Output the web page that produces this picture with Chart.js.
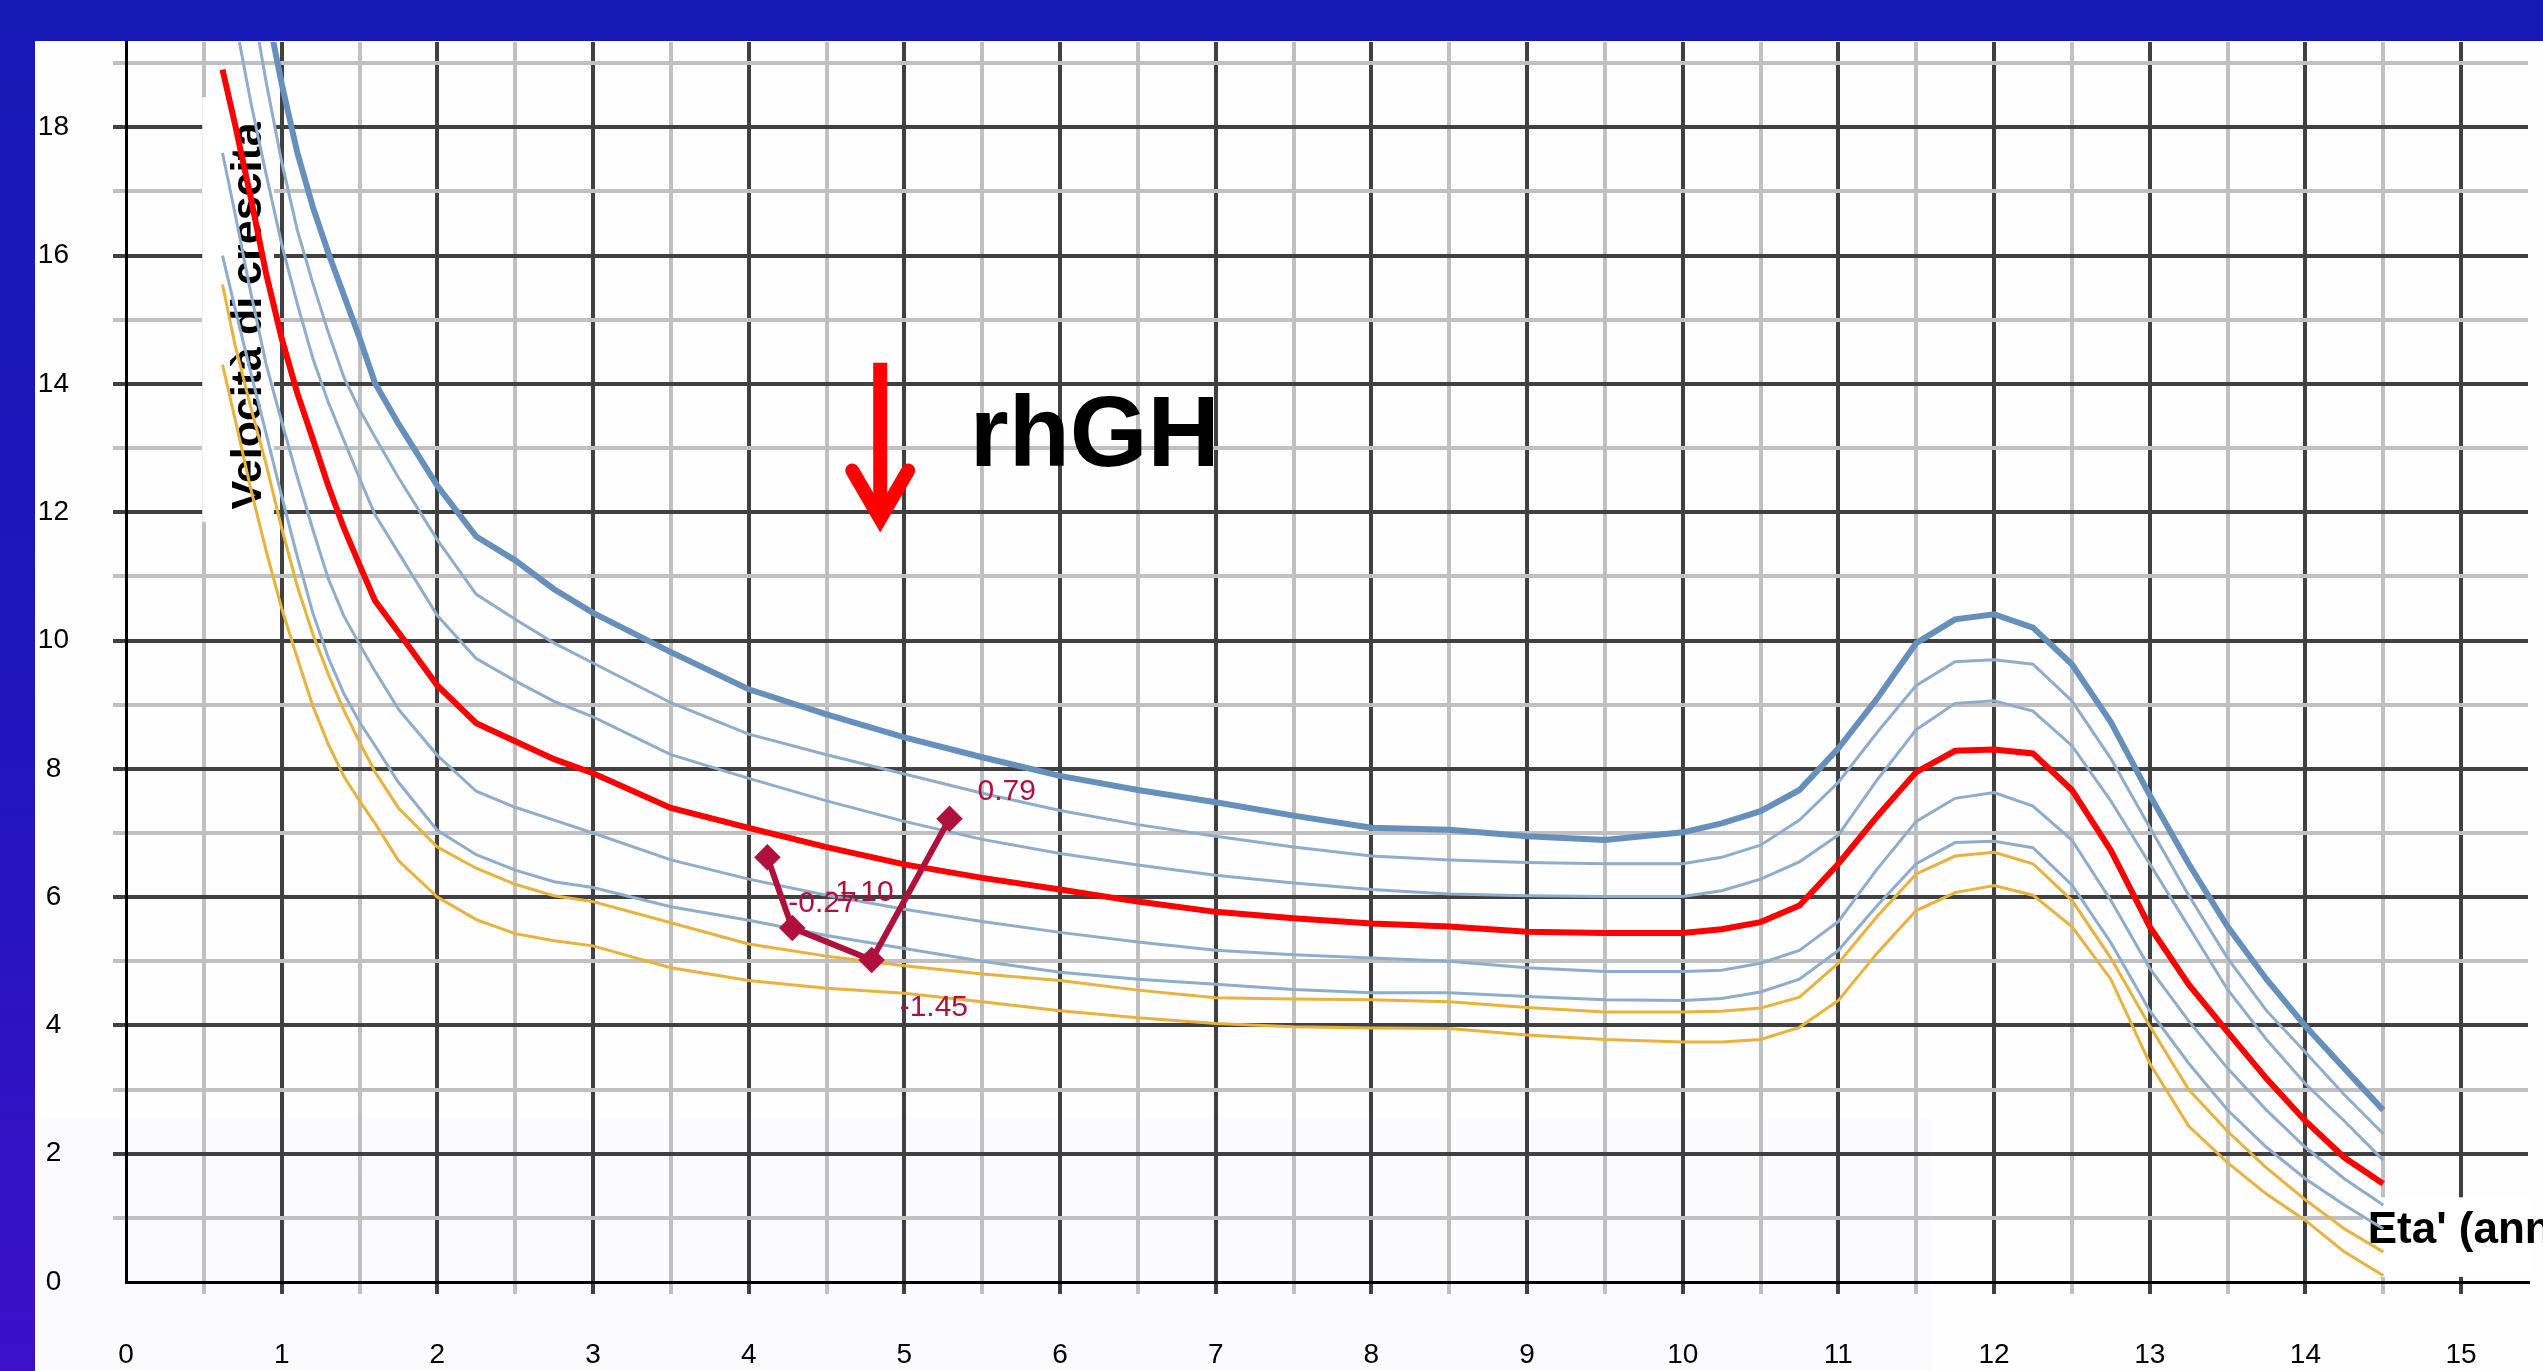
<!DOCTYPE html>
<html>
<head>
<meta charset="utf-8">
<title>Velocità di crescita</title>
<script src="https://cdn.jsdelivr.net/npm/chart.js@4.4.1/dist/chart.umd.min.js"></script>
<style>
  html, body { margin: 0; padding: 0; overflow: hidden; }
  body { width: 2543px; height: 1371px; position: relative;
         background: linear-gradient(180deg, #1519b6 0%, #2116bd 55%, #3b10c8 100%); }
  #sheet { position: absolute; left: 35px; top: 41px; width: 2508px; height: 1330px; background: #fefeff; }
  #tint { position: absolute; left: 35px; top: 1119px; width: 1895px; height: 252px; background: #fbfaff; }
  #growthChart { position: absolute; left: 35px; top: 27px; display: block; }
</style>
</head>
<body>
<div id="sheet"></div>
<div id="tint"></div>
<canvas id="growthChart" width="2508" height="1344"></canvas>
<script>
// age in years (x axis)
const ages = [0.62, 0.7, 0.8, 0.9, 1.0, 1.1, 1.2, 1.3, 1.4, 1.5, 1.6, 1.75, 2.0, 2.25, 2.5, 2.75,
  3.0, 3.5, 4.0, 4.5, 5.0, 5.5, 6.0, 6.5, 7.0, 7.5, 8.0, 8.5, 9.0, 9.5, 10.0, 10.25, 10.5, 10.75,
  11.0, 11.25, 11.5, 11.75, 12.0, 12.25, 12.5, 12.75, 13.0, 13.25, 13.5, 13.75, 14.0, 14.25, 14.5];

// reference growth velocity curves (cm/year), top to bottom
const curveTop = [null, null, null, 19.9, 18.68, 17.61, 16.76, 16.04, 15.38, 14.72, 14.01, 13.38, 12.41, 11.62, 11.25, 10.8,
  10.43, 9.82, 9.24, 8.85, 8.49, 8.18, 7.89, 7.67, 7.48, 7.27, 7.08, 7.05, 6.95, 6.89, 7.01, 7.15, 7.34, 7.67,
  8.32, 9.10, 9.96, 10.33, 10.41, 10.20, 9.63, 8.73, 7.59, 6.52, 5.54, 4.72, 3.99, 3.33, 2.68];
const curveHigh1 = [null, null, 20.1, 18.71, 17.46, 16.4, 15.57, 14.8, 14.1, 13.6, 13.17, 12.54, 11.57, 10.72, 10.33, 9.96,
  9.65, 9.03, 8.54, 8.22, 7.92, 7.62, 7.35, 7.13, 6.95, 6.78, 6.64, 6.58, 6.54, 6.52, 6.52, 6.62, 6.81, 7.2,
  7.79, 8.57, 9.30, 9.67, 9.70, 9.63, 9.06, 8.16, 7.09, 6.03, 5.05, 4.23, 3.58, 2.92, 2.31];
const curveHigh2 = [null, 19.7, 18.41, 17.27, 16.18, 15.25, 14.4, 13.71, 13.12, 12.53, 11.96, 11.37, 10.39, 9.72, 9.37, 9.05,
  8.81, 8.22, 7.85, 7.5, 7.18, 6.9, 6.68, 6.5, 6.34, 6.22, 6.12, 6.05, 6.02, 6.01, 6.01, 6.1, 6.28, 6.55,
  6.97, 7.83, 8.61, 9.02, 9.06, 8.90, 8.36, 7.50, 6.52, 5.54, 4.56, 3.78, 3.09, 2.51, 1.90];
const curveMedian = [18.9, 18.05, 16.92, 15.72, 14.71, 13.86, 13.14, 12.41, 11.75, 11.18, 10.62, 10.13, 9.3, 8.71, 8.43, 8.15,
  7.93, 7.39, 7.08, 6.78, 6.51, 6.3, 6.12, 5.93, 5.77, 5.67, 5.59, 5.54, 5.46, 5.44, 5.44, 5.50, 5.61, 5.87,
  6.52, 7.26, 7.95, 8.28, 8.30, 8.24, 7.67, 6.73, 5.54, 4.64, 3.90, 3.17, 2.51, 1.94, 1.53];
const curveLow1 = [17.6, 16.66, 15.44, 14.31, 13.41, 12.55, 11.73, 10.96, 10.38, 9.94, 9.52, 8.93, 8.21, 7.65, 7.40, 7.2,
  7.0, 6.58, 6.28, 6.03, 5.81, 5.62, 5.45, 5.3, 5.17, 5.1, 5.05, 5.0, 4.9, 4.84, 4.84, 4.86, 4.97, 5.17,
  5.62, 6.44, 7.18, 7.54, 7.63, 7.42, 6.89, 5.95, 4.89, 4.07, 3.33, 2.68, 2.10, 1.61, 1.20];
const curveLow2 = [16.0, 15.18, 14.19, 13.23, 12.25, 11.31, 10.43, 9.73, 9.17, 8.73, 8.36, 7.79, 7.04, 6.66, 6.42, 6.24,
  6.15, 5.85, 5.64, 5.4, 5.20, 5.0, 4.83, 4.72, 4.64, 4.56, 4.51, 4.51, 4.45, 4.40, 4.39, 4.42, 4.52, 4.72,
  5.17, 5.87, 6.52, 6.85, 6.87, 6.77, 6.19, 5.29, 4.23, 3.41, 2.68, 2.10, 1.61, 1.20, 0.83];
const curveLow3 = [15.55, 14.61, 13.65, 12.75, 11.75, 10.85, 10.1, 9.47, 8.91, 8.42, 7.95, 7.39, 6.78, 6.45, 6.2, 6.02,
  5.93, 5.6, 5.27, 5.08, 4.93, 4.8, 4.70, 4.55, 4.43, 4.41, 4.40, 4.37, 4.28, 4.21, 4.21, 4.22, 4.27, 4.44,
  4.97, 5.70, 6.36, 6.64, 6.70, 6.52, 5.95, 5.05, 3.99, 3.00, 2.35, 1.78, 1.28, 0.83, 0.47];
const curveBottom = [14.3, 13.46, 12.38, 11.4, 10.5, 9.73, 8.98, 8.38, 7.88, 7.5, 7.15, 6.57, 6.0, 5.65, 5.43, 5.32,
  5.24, 4.9, 4.70, 4.58, 4.50, 4.37, 4.23, 4.12, 4.03, 3.98, 3.96, 3.95, 3.85, 3.78, 3.74, 3.74, 3.78, 3.97,
  4.39, 5.13, 5.79, 6.07, 6.18, 6.03, 5.54, 4.72, 3.41, 2.43, 1.86, 1.37, 0.96, 0.47, 0.10];

// patient measurements
const patientAges = [4.12, 4.28, 4.79, 5.29];
const patientVelocity = [6.62, 5.52, 5.02, 7.22];
const patientSds = ['-0.27', '-1.10', '-1.45', '0.79'];

const xTitle = "Eta' (anni)";
const yTitle = 'Velocità di crescita';
const markerText = 'rhGH';

const FONT = "'Liberation Sans', Arial, sans-serif";
const DARK = '#404040';
const LIGHT = '#c0c0c0';

const pts = (xs, ys) => xs.map((x, i) => ({ x: x, y: ys[i] }));
const isInt = v => Math.abs(v - Math.round(v)) < 1e-6;

function curve(values, color, width) {
  return {
    data: pts(ages, values),
    borderColor: color,
    borderWidth: width,
    pointRadius: 0,
    tension: 0,
    fill: false
  };
}

// white boxes and rotated axis titles, under the curves
const titleBoxes = {
  id: 'titleBoxes',
  beforeDatasetsDraw(chart) {
    const { ctx, scales: { x, y }, chartArea } = chart;
    ctx.save();
    ctx.fillStyle = '#ffffff';
    let l = x.getPixelForValue(0.49), r = x.getPixelForValue(0.95);
    let t = y.getPixelForValue(18.47), b = y.getPixelForValue(11.85);
    ctx.fillRect(l, t, r - l, b - t);
    ctx.fillStyle = '#000';
    ctx.font = 'bold 43px ' + FONT;
    ctx.textAlign = 'center';
    ctx.textBaseline = 'alphabetic';
    ctx.translate(x.getPixelForValue(0.868), y.getPixelForValue(15.06));
    ctx.rotate(-Math.PI / 2);
    ctx.fillText(yTitle, 0, 0);
    ctx.restore();

    ctx.save();
    l = x.getPixelForValue(14.37);
    t = y.getPixelForValue(1.32);
    b = y.getPixelForValue(0.08);
    ctx.fillStyle = '#ffffff';
    ctx.fillRect(l, t, chartArea.right - l + 2, b - t);
    ctx.fillStyle = '#000';
    ctx.font = 'bold 44px ' + FONT;
    ctx.textAlign = 'left';
    ctx.fillText(xTitle, x.getPixelForValue(14.40), y.getPixelForValue(0.61));
    ctx.restore();
  }
};

// arrow, rhGH text and patient SDS labels
const overlays = {
  id: 'overlays',
  afterDatasetsDraw(chart) {
    const { ctx, scales: { x, y } } = chart;
    ctx.save();
    const cx = x.getPixelForValue(4.845);
    const top = y.getPixelForValue(14.33);
    const wing = y.getPixelForValue(12.65);
    const vertex = y.getPixelForValue(11.90);
    ctx.strokeStyle = '#ff0000';
    ctx.lineWidth = 14;
    ctx.lineCap = 'butt';
    ctx.beginPath();
    ctx.moveTo(cx, top);
    ctx.lineTo(cx, vertex);
    ctx.stroke();
    ctx.lineCap = 'round';
    ctx.lineJoin = 'miter';
    ctx.miterLimit = 10;
    ctx.beginPath();
    ctx.moveTo(cx - 28, wing);
    ctx.lineTo(cx, vertex);
    ctx.lineTo(cx + 28, wing);
    ctx.stroke();

    ctx.fillStyle = '#000';
    ctx.font = 'bold 100px ' + FONT;
    ctx.textAlign = 'left';
    ctx.textBaseline = 'alphabetic';
    ctx.fillText(markerText, x.getPixelForValue(5.42), y.getPixelForValue(12.72));
    ctx.restore();

    const meta = chart.getDatasetMeta(0);
    const offsets = [[21, 55], [33, -27], [28, 56], [28, -19]];
    ctx.save();
    ctx.fillStyle = '#b0103c';
    ctx.font = '30px ' + FONT;
    ctx.textAlign = 'left';
    ctx.textBaseline = 'alphabetic';
    meta.data.forEach((p, i) => {
      ctx.fillText(patientSds[i], p.x + offsets[i][0], p.y + offsets[i][1]);
    });
    ctx.restore();
  }
};

const ctx = document.getElementById('growthChart').getContext('2d');
const growthChart = new Chart(ctx, {
  type: 'line',
  data: {
    datasets: [
      {
        data: pts(patientAges, patientVelocity),
        borderColor: '#b0103c',
        backgroundColor: '#b0103c',
        borderWidth: 6,
        pointStyle: 'rectRot',
        pointRadius: 9,
        tension: 0,
        fill: false
      },
      curve(curveMedian, '#ff0000', 6),
      curve(curveTop, '#6690bb', 6),
      curve(curveHigh1, '#8eadcc', 3),
      curve(curveHigh2, '#8eadcc', 3),
      curve(curveLow1, '#8eadcc', 3),
      curve(curveLow2, '#8eadcc', 3),
      curve(curveLow3, '#e8b23c', 3),
      curve(curveBottom, '#e8b23c', 3)
    ]
  },
  options: {
    responsive: false,
    animation: false,
    devicePixelRatio: 1,
    layout: { padding: 0 },
    plugins: { legend: { display: false }, tooltip: { enabled: false } },
    scales: {
      x: {
        type: 'linear',
        min: 0,
        max: 15.43,
        ticks: {
          stepSize: 0.5,
          includeBounds: false,
          autoSkip: false,
          maxRotation: 0,
          padding: 44,
          color: '#000',
          font: { family: FONT, size: 28 },
          callback: v => isInt(v) ? Math.round(v) : ''
        },
        grid: {
          tickLength: 12,
          color: c => c.tick.value === 0 ? 'rgba(0,0,0,0)' : (isInt(c.tick.value) ? DARK : LIGHT),
          lineWidth: 4
        },
        border: { color: '#000', width: 3 },
        afterFit: s => { s.height = 89; s.paddingLeft = 0; s.paddingRight = 0; }
      },
      y: {
        min: 0,
        max: 19.33,
        ticks: {
          stepSize: 1,
          includeBounds: false,
          autoSkip: false,
          crossAlign: 'center',
          padding: 44,
          color: '#000',
          font: { family: FONT, size: 28 },
          callback: v => (isInt(v) && Math.round(v) % 2 === 0) ? Math.round(v) : ''
        },
        grid: {
          tickLength: 13,
          color: c => c.tick.value === 0 ? 'rgba(0,0,0,0)' : (Math.round(c.tick.value) % 2 === 0 ? DARK : LIGHT),
          lineWidth: 4
        },
        border: { color: '#000', width: 3 },
        afterFit: s => { s.width = 91; s.paddingTop = 0; s.paddingBottom = 0; }
      }
    }
  },
  plugins: [titleBoxes, overlays]
});
</script>
</body>
</html>
